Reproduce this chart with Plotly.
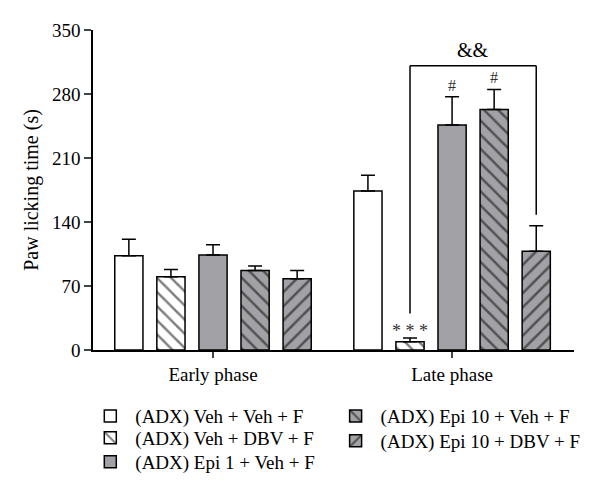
import plotly.graph_objects as go

# paw licking time, ADX mice, early vs late phase of formalin test
phases = ["Early phase", "Late phase"]
groups = ["(ADX) Veh + Veh + F", "(ADX) Veh + DBV + F", "(ADX) Epi 1 + Veh + F",
          "(ADX) Epi 10 + Veh + F", "(ADX) Epi 10 + DBV + F"]
means = [[103, 174], [80, 9], [104, 246], [87, 263], [78, 108]]
sem = [[18, 17], [8, 4], [11, 31], [5, 22], [9, 28]]
fills = ["white", "white", "#a2a2a6", "#a2a2a6", "#a2a2a6"]
hatch = ["", "\\", "", "\\", "/"]
marks = {1: [("* * *", 1)], 2: [("#", 1)], 3: [("#", 1)]}  # group idx -> (label, phase idx)

FONT = "Liberation Serif, Times New Roman, serif"
BARGAP = 0.12
slot = (1 - BARGAP) / len(groups)
xs = [0, 1]

# one legend per entry so rows can sit as tight as in the original
leg_pos = [(-0.016, -0.147), (-0.016, -0.2156), (-0.016, -0.2906),
           (0.494, -0.147), (0.494, -0.225)]

fig = go.Figure()
for i, g in enumerate(groups):
    fig.add_trace(go.Bar(
        x=xs, y=means[i], name=g,
        marker=dict(color=fills[i], line=dict(color="black", width=1.5),
                    pattern=dict(shape=hatch[i], fgcolor="black", size=10, solidity=0.25)),
        error_y=dict(type="data", symmetric=False, array=sem[i], arrayminus=[0, 0],
                     color="black", thickness=1.5, width=7),
        legend="legend" if i == 0 else f"legend{i + 1}",
    ))

# significance marks above bars
for i, lst in marks.items():
    for lab, p in lst:
        xc = xs[p] + (i - 2) * slot
        top = means[i][p] + sem[i][p]
        fig.add_annotation(x=xc, y=top, text=lab, showarrow=False, yanchor="bottom",
                           yshift=1 if lab == "#" else -5,
                           font=dict(family=FONT, size=16 if lab == "#" else 18, color="#333"))

# bracket between Veh+DBV and Epi10+DBV in the late phase
xl = xs[1] + (1 - 2) * slot
xr = xs[1] + (4 - 2) * slot
ytop = 311
line = dict(color="black", width=1.5)
fig.add_shape(type="line", x0=xl, x1=xl, y0=40, y1=ytop, line=line)
fig.add_shape(type="line", x0=xl, x1=xr, y0=ytop, y1=ytop, line=line)
fig.add_shape(type="line", x0=xr, x1=xr, y0=148, y1=ytop, line=line)
fig.add_annotation(x=(xl + xr) / 2, y=ytop, text="&&", showarrow=False, yanchor="bottom", yshift=3,
                   font=dict(family=FONT, size=20, color="black"))

legends = {}
for i, (lx, ly) in enumerate(leg_pos):
    key = "legend" if i == 0 else f"legend{i + 1}"
    legends[key] = dict(x=lx, y=ly, xanchor="left", yanchor="top", font=dict(size=19),
                        itemwidth=40, bgcolor="rgba(0,0,0,0)")

fig.update_layout(
    width=600, height=493,
    margin=dict(l=93, r=26, t=30, b=143, autoexpand=False),
    paper_bgcolor="white", plot_bgcolor="white",
    barmode="group", bargap=BARGAP, bargroupgap=0.33,
    font=dict(family=FONT, size=19, color="black"),
    showlegend=True,
    **legends,
)
fig.update_xaxes(range=[-0.502, 1.51], tickvals=xs, ticktext=phases, ticks="outside",
                 ticklen=6, tickwidth=1.5, showline=True, linecolor="black", linewidth=1.5,
                 showgrid=False, zeroline=False, tickfont=dict(size=19), automargin=False)
fig.update_yaxes(range=[0, 350], tickvals=[0, 70, 140, 210, 280, 350], ticks="outside",
                 ticklen=7, tickwidth=1.5, showline=True, linecolor="black", linewidth=1.5,
                 showgrid=False, zeroline=False, tickfont=dict(size=19), automargin=False,
                 title=dict(text="Paw licking time (s)", font=dict(size=20), standoff=8))

fig.write_html("out.html", config={"displayModeBar": False},
               post_script="document.body.style.margin='0';")
